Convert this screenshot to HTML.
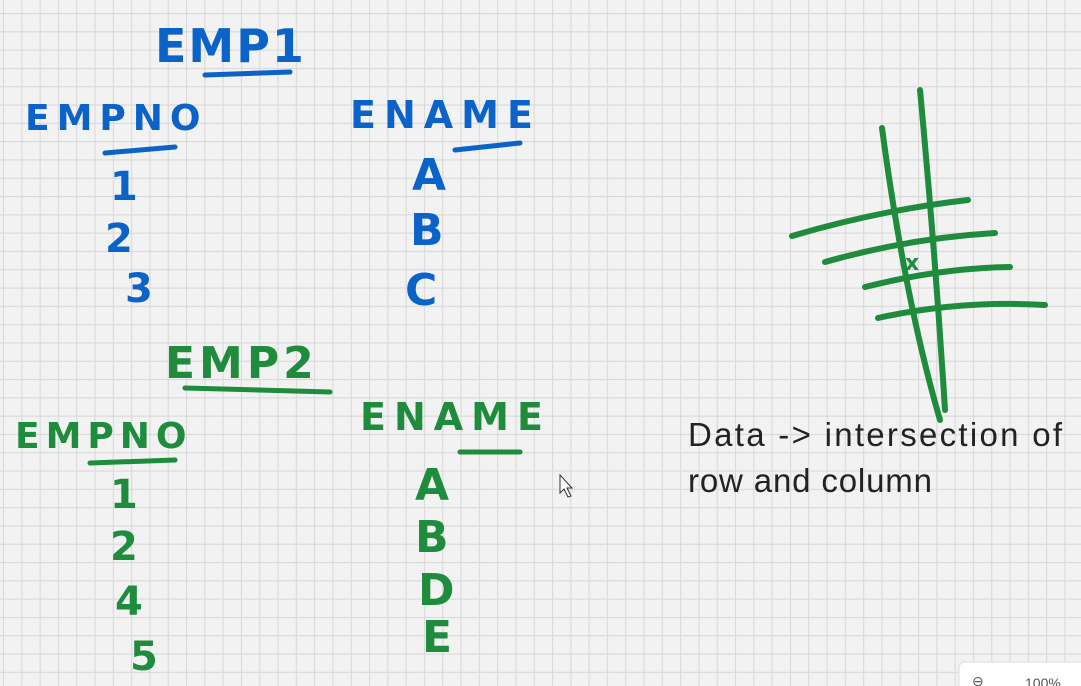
<!DOCTYPE html>
<html><head><meta charset="utf-8"><style>
html,body{margin:0;padding:0;width:1081px;height:686px;overflow:hidden;background:#f2f2f2}
svg{display:block}
.b{fill:#0b63c9;font-family:"DejaVu Sans",sans-serif;font-weight:bold}
.g{fill:#1e8c3c;font-family:"DejaVu Sans",sans-serif;font-weight:bold}
.k{fill:#222;font-family:"Liberation Sans",sans-serif;font-size:33px}
</style></head><body>
<svg width="1081" height="686">
<defs><pattern id="grid" x="3" y="13" width="18.3" height="18.3" patternUnits="userSpaceOnUse">
<path d="M0 0H18.3M0 0V18.3" stroke="#d9d9d9" stroke-width="2.2" fill="none"/></pattern></defs>
<rect width="1081" height="686" fill="#f2f2f2"/>
<rect width="1081" height="686" fill="url(#grid)"/>
<g>
<text class="b" x="155" y="62" font-size="46" letter-spacing="2">EMP1</text>
<path d="M205 75 L290 72" stroke="#0b63c9" stroke-width="5" stroke-linecap="round"/>
<text class="b" x="25" y="130" font-size="36" letter-spacing="7">EMPNO</text>
<path d="M105 153 L175 147" stroke="#0b63c9" stroke-width="5" stroke-linecap="round"/>
<text class="b" x="350" y="128" font-size="38" letter-spacing="8">ENAME</text>
<path d="M455 150 L520 143" stroke="#0b63c9" stroke-width="5" stroke-linecap="round"/>
<text class="b" x="110" y="200" font-size="40">1</text>
<text class="b" x="105" y="252" font-size="40">2</text>
<text class="b" x="125" y="302" font-size="40">3</text>
<text class="b" x="412" y="190" font-size="44">A</text>
<text class="b" x="410" y="245" font-size="44">B</text>
<text class="b" x="405" y="305" font-size="44">C</text>
</g>
<g>
<text class="g" x="165" y="378" font-size="44" letter-spacing="4">EMP2</text>
<path d="M185 388 L330 392" stroke="#1e8c3c" stroke-width="5" stroke-linecap="round"/>
<text class="g" x="15" y="448" font-size="36" letter-spacing="6">EMPNO</text>
<path d="M90 463 L175 460" stroke="#1e8c3c" stroke-width="5" stroke-linecap="round"/>
<text class="g" x="360" y="430" font-size="38" letter-spacing="8">ENAME</text>
<path d="M460 452 L520 452" stroke="#1e8c3c" stroke-width="5" stroke-linecap="round"/>
<text class="g" x="110" y="508" font-size="40">1</text>
<text class="g" x="110" y="560" font-size="40">2</text>
<text class="g" x="115" y="615" font-size="40">4</text>
<text class="g" x="130" y="670" font-size="40">5</text>
<text class="g" x="415" y="500" font-size="44">A</text>
<text class="g" x="415" y="552" font-size="44">B</text>
<text class="g" x="418" y="605" font-size="44">D</text>
<text class="g" x="422" y="652" font-size="44">E</text>
</g>
<g stroke="#1e8c3c" stroke-width="6" stroke-linecap="round" fill="none">
<path d="M882 128 Q905 300 940 420"/>
<path d="M920 90 Q935 250 945 410"/>
<path d="M792 236 Q880 210 968 200"/>
<path d="M825 262 Q910 238 995 233"/>
<path d="M865 287 Q940 268 1010 267"/>
<path d="M878 318 Q960 300 1045 305"/>
<text x="905" y="270" font-size="22" fill="#1e8c3c" stroke="none" font-family="DejaVu Sans" font-weight="bold">x</text>
</g>
<text class="k" x="688" y="446" textLength="374">Data -&gt; intersection of</text>
<text class="k" x="688" y="492" textLength="244">row and column</text>
<path d="M560 475 L560 493 L564 489 L568 497 L571 496 L567 488 L572 488 Z" fill="#fff" stroke="#333" stroke-width="1"/>
<g>
<rect x="959" y="662" width="130" height="40" rx="6" fill="#fff" stroke="#ddd"/>
<text x="972" y="686" font-size="14" fill="#555" font-family="Liberation Sans">⊖</text>
<text x="1025" y="688" font-size="14" fill="#555" font-family="Liberation Sans">100%</text>
</g>
</svg>
</body></html>
